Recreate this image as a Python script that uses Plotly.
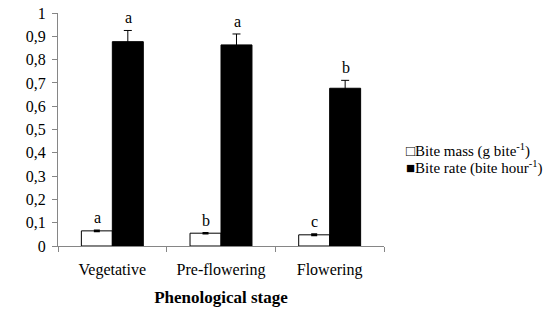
import plotly.graph_objects as go

stages = ["Vegetative", "Pre-flowering", "Flowering"]
bite_mass = [0.065, 0.055, 0.048]
bite_mass_err = [0.003, 0.002, 0.003]
bite_mass_letters = ["a", "b", "c"]
bite_rate = [0.877, 0.863, 0.677]
bite_rate_err = [0.048, 0.047, 0.034]
bite_rate_letters = ["a", "a", "b"]
y_ticks = [0, 0.1, 0.2, 0.3, 0.4, 0.5, 0.6, 0.7, 0.8, 0.9, 1]
legend_labels = ["□Bite mass (g bite<sup>-1</sup>)", "■Bite rate (bite hour<sup>-1</sup>)"]

FONT = "Liberation Serif"

fig = go.Figure()
fig.add_trace(go.Bar(
    x=stages, y=bite_mass, name="Bite mass",
    marker=dict(color="white", line=dict(color="black", width=1)),
    error_y=dict(type="data", array=bite_mass_err, color="black", thickness=1.5, width=3),
))
fig.add_trace(go.Bar(
    x=stages, y=bite_rate, name="Bite rate",
    marker=dict(color="black", line=dict(color="black", width=1)),
    error_y=dict(type="data", array=bite_rate_err, color="black", thickness=1, width=4),
))

annotations = []
for i, s in enumerate(stages):
    annotations.append(dict(x=s, y=bite_mass[i] + bite_mass_err[i], text=bite_mass_letters[i],
                            xref="x", yref="y", showarrow=False, xshift=-15, yanchor="bottom", yshift=2,
                            font=dict(family=FONT, size=16, color="black")))
    annotations.append(dict(x=s, y=bite_rate[i] + bite_rate_err[i], text=bite_rate_letters[i],
                            xref="x", yref="y", showarrow=False, xshift=16, yanchor="bottom", yshift=2,
                            font=dict(family=FONT, size=16, color="black")))
for j, lab in enumerate(legend_labels):
    annotations.append(dict(x=1.062, y=0.412 - j * 0.076, xref="paper", yref="paper", text=lab,
                            showarrow=False, xanchor="left", yanchor="middle",
                            font=dict(family=FONT, size=15, color="black")))

fig.update_layout(
    width=550, height=309,
    margin=dict(l=58, r=166, t=13, b=63),
    plot_bgcolor="white", paper_bgcolor="white",
    barmode="group", bargap=0.43, bargroupgap=0,
    separators=",.",
    font=dict(family=FONT, size=16, color="black"),
    showlegend=False,
    annotations=annotations,
)
fig.update_xaxes(
    automargin=False,
    showline=True, linecolor="#868686", linewidth=1,
    ticks="outside", tickson="boundaries", ticklen=5, tickcolor="#868686",
    tickfont=dict(family=FONT, size=16), ticklabelstandoff=9,
    title=dict(text="<b>Phenological stage</b>", font=dict(family=FONT, size=17), standoff=12),
    showgrid=False,
)
fig.update_yaxes(
    automargin=False,
    range=[0, 1], tickvals=y_ticks,
    showline=True, linecolor="#868686", linewidth=1,
    ticks="outside", ticklen=5, tickcolor="#868686",
    tickfont=dict(family=FONT, size=16), ticklabelstandoff=3,
    showgrid=False, zeroline=False,
)

fig.write_html("out.html", config={"displayModeBar": False},
               post_script="document.body.style.margin='0';")
